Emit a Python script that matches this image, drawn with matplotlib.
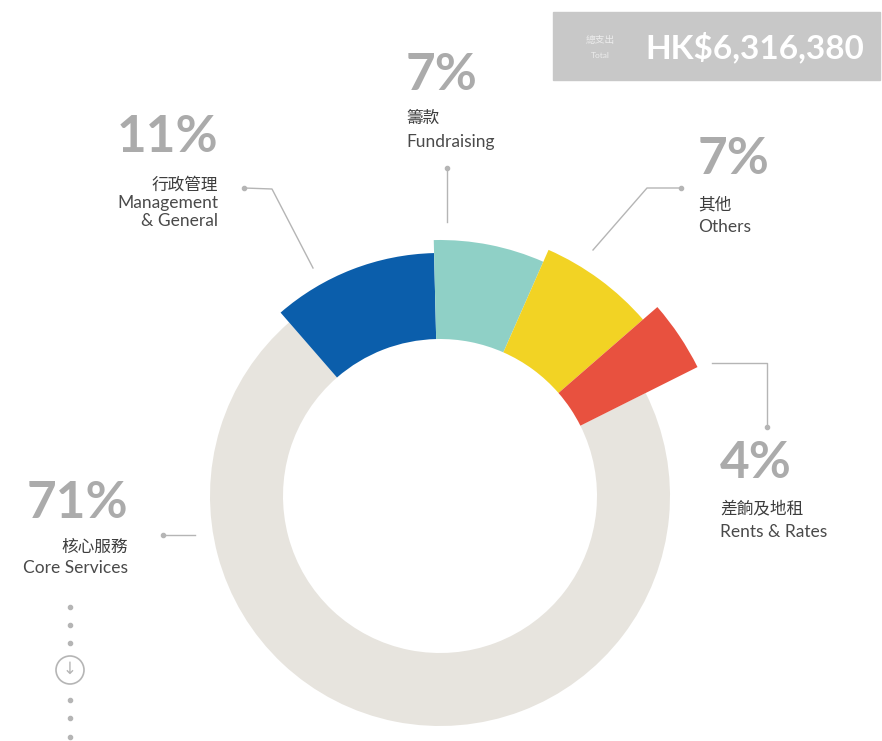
import matplotlib.pyplot as plt
from matplotlib.patches import Rectangle, Circle

# Expense breakdown (percent of total)
labels_zh = ['行政管理', '籌款', '其他', '差餉及地租', '核心服務']
labels_en = ['Management\n& General', 'Fundraising', 'Others', 'Rents & Rates', 'Core Services']
shares = [11, 7, 7, 4, 71]
total_text = 'HK$6,316,380'

colors = ['#0b5eab', '#8fd0c6', '#f2d324', '#e8513f', '#e7e4de']
# outer radius of each ring piece in pixels (infographic step effect)
radii = [243, 256, 269, 288, 230]
inner_r = 157

W, H = 882, 741
fig = plt.figure(figsize=(W / 100, H / 100), dpi=100)
ax = fig.add_axes([0, 0, 1, 1])

cx, cy = 440, H - 496

wedges, _ = ax.pie(shares, colors=colors, startangle=131, counterclock=False,
                   center=(cx, cy), radius=1, frame=True)
for w, r in zip(wedges, radii):
    w.set_radius(r)
    w.set_width(r - inner_r)
    w.set_edgecolor('none')
# gray ring drawn underneath the coloured steps
wedges[-1].set_zorder(0)
ax.set_xlim(0, W)
ax.set_ylim(0, H)
ax.set_aspect('equal')
ax.axis('off')

pct_font = dict(family='Lato', weight='bold', color='#ababab', fontsize=37)
zh_font = dict(family=['Noto Sans CJK TC', 'DejaVu Sans'], color='#3d3d3d', fontsize=12)
en_font = dict(family='Lato', color='#4a4a4a', fontsize=12.5)


def px(x, y):
    return x, H - y


# label blocks: (x, y of pct, y of zh, y of en, alignment)
blocks = [
    (218, 138, 185, 212, 'right'),
    (406, 76, 118, 142, 'left'),
    (698, 160, 205, 227, 'left'),
    (720, 464, 510, 532, 'left'),
    (128, 504, 547, 568, 'right'),
]
for i, (x, yp, yz, ye, ha) in enumerate(blocks):
    ax.text(*px(x, yp), f'{shares[i]}%', ha=ha, va='center', **pct_font)
    ax.text(*px(x, yz), labels_zh[i], ha=ha, va='center', **zh_font)
    ax.text(*px(x, ye), labels_en[i], ha=ha, va='center', linespacing=1.2, **en_font)

# leader lines, dot at the label end
line_kw = dict(color='#b5b5b5', lw=1)
leaders = [
    [(244, 188), (272, 189), (313, 268)],
    [(447, 168), (447, 222)],
    [(681, 188), (647, 188), (593, 250)],
    [(767, 427), (767, 363), (712, 363)],
    [(163, 535), (195, 535)],
]
for pts in leaders:
    xs = [p[0] for p in pts]
    ys = [H - p[1] for p in pts]
    ax.plot(xs, ys, **line_kw)
    ax.plot(xs[0], ys[0], 'o', color='#b5b5b5', ms=3)

# total box
ax.add_patch(Rectangle(px(553, 80), 327, 68, color='#c8c8c8', zorder=1))
ax.text(*px(600, 40), '總支出', ha='center', va='center', color='#ececec', fontsize=7,
        family=['Noto Sans CJK TC', 'DejaVu Sans'], zorder=2)
ax.text(*px(600, 56), 'Total', ha='center', va='center', color='#ececec', fontsize=6,
        family='Lato', zorder=2)
ax.text(*px(645, 47), total_text, ha='left', va='center', color='white', fontsize=24,
        family='Lato', weight='bold', zorder=2)

# dotted guide with arrow circle
for y in [607, 625, 643, 700, 718, 737]:
    ax.plot(*px(70, y), 'o', color='#b5b5b5', ms=3)
ax.add_patch(Circle(px(70, 670), 14, fill=False, ec='#b5b5b5', lw=1.2))
ax.text(*px(70, 669), '↓', ha='center', va='center', color='#b5b5b5', fontsize=12,
        family='DejaVu Sans')

fig.savefig('out.png', dpi=100, facecolor='white')
